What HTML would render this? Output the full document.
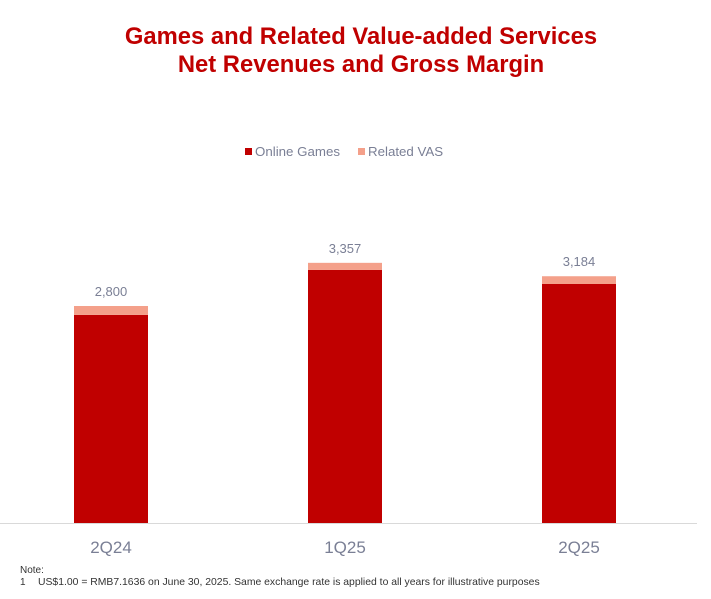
<!DOCTYPE html>
<html><head><meta charset="utf-8"><style>
body{margin:0;width:711px;height:594px;background:#fff;font-family:"Liberation Sans",sans-serif;overflow:hidden}
</style></head><body>
<svg width="711" height="594" xmlns="http://www.w3.org/2000/svg">
<text x="361" y="44" text-anchor="middle" font-size="23.8" font-weight="bold" fill="#c00000">Games and Related Value-added Services</text>
<text x="361" y="72" text-anchor="middle" font-size="23.8" font-weight="bold" fill="#c00000">Net Revenues and Gross Margin</text>
<g>
<rect x="245" y="148" width="7" height="7" fill="#c00000"/>
<text x="255" y="156" font-size="13.3" fill="#7a7f95">Online Games</text>
<rect x="358" y="148" width="7" height="7" fill="#f4a08a"/>
<text x="368" y="156" font-size="13.3" fill="#7a7f95">Related VAS</text>
</g>
<g id="bars"></g>
<line x1="0" y1="523.5" x2="697" y2="523.5" stroke="#d9d9d9" stroke-width="1"/>
<g id="xlabels"></g>
<text x="20" y="573" font-size="10" fill="#333">Note:</text>
<text x="20" y="585" font-size="10" fill="#333">1</text>
<text x="38" y="585" font-size="10.4" fill="#333">US$1.00 = RMB7.1636 on June 30, 2025. Same exchange rate is applied to all years for illustrative purposes</text>
</svg>
<script>
const categories=["2Q24","1Q25","2Q25"];
const onlineGames=[2685,3265,3084];
const relatedVAS=[115,92,100];
const totalLabels=["2,800","3,357","3,184"];
const NS="http://www.w3.org/2000/svg";
const baseY=523, scale=217/2800, bw=74;
function xPos(i){return 74+i*234;}
function yH(v){return v*scale;}
const g=document.getElementById("bars"), xl=document.getElementById("xlabels");
categories.forEach((c,i)=>{
  const x=xPos(i);
  const h1=yH(onlineGames[i]), h2=yH(relatedVAS[i]);
  const r1=document.createElementNS(NS,"rect");
  r1.setAttribute("x",x);r1.setAttribute("y",baseY-h1);r1.setAttribute("width",bw);r1.setAttribute("height",h1);r1.setAttribute("fill","#c00000");
  
  
  g.appendChild(r1);
  const r2=document.createElementNS(NS,"rect");
  r2.setAttribute("x",x);r2.setAttribute("y",baseY-h1-h2);r2.setAttribute("width",bw);r2.setAttribute("height",h2);r2.setAttribute("fill","#f4a08a");
  
  
  g.appendChild(r2);
  const t=document.createElementNS(NS,"text");
  t.setAttribute("x",x+bw/2);t.setAttribute("y",baseY-h1-h2-10);t.setAttribute("text-anchor","middle");t.setAttribute("font-size","13");t.setAttribute("fill","#7a7f95");
  t.textContent=totalLabels[i];
  
  
  g.appendChild(t);
  const l=document.createElementNS(NS,"text");
  l.setAttribute("x",x+bw/2);l.setAttribute("y",553);l.setAttribute("text-anchor","middle");l.setAttribute("font-size","17");l.setAttribute("fill","#7a7f95");
  l.textContent=c;
  
  
  xl.appendChild(l);
});
</script>
</body></html>
